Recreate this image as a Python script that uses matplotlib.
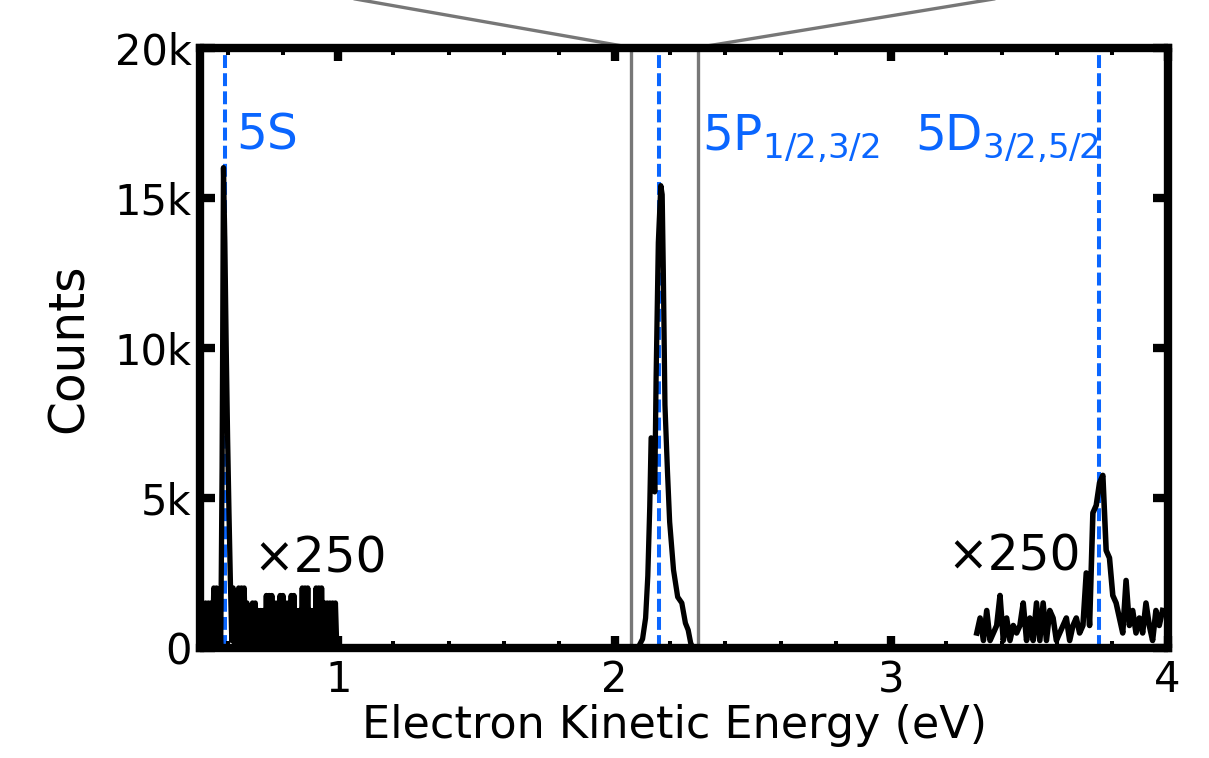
import numpy as np
import matplotlib
matplotlib.use("Agg")
import matplotlib.pyplot as plt
from matplotlib.ticker import MultipleLocator

# low-energy window (5S), counts before the x250 scaling, 0.005 eV bins from 0.5 eV
low_counts = [5, 0, 5, 0, 6, 0, 6, 1, 6, 0,
              8, 0, 8, 0, 5, 0, 24, 64, 54, 40,
              28, 18, 9, 1, 8, 0, 7, 0, 8, 0,
              8, 0, 8, 0, 6, 0, 5, 0, 6, 0,
              6, 0, 5, 1, 5, 0, 5, 0, 7, 0,
              7, 1, 7, 0, 6, 0, 6, 0, 7, 0,
              7, 0, 6, 1, 6, 0, 7, 0, 7, 0,
              5, 0, 5, 0, 8, 0, 8, 1, 8, 0,
              5, 0, 5, 0, 8, 0, 8, 0, 8, 1,
              6, 0, 6, 0, 6, 0, 6, 0, 6, 0,
              0]
low_start, low_step = 0.5, 0.005

# 5P peak (unscaled)
mid_energy = [2.058, 2.087, 2.101, 2.112, 2.120, 2.127, 2.132, 2.140, 2.145, 2.150,
              2.158, 2.167, 2.172, 2.176, 2.182, 2.191, 2.199, 2.213, 2.228, 2.243,
              2.256, 2.266, 2.275, 2.283]
mid_counts = [0, 50, 300, 1000, 2400, 4700, 7000, 6900, 5200, 9000,
              13500, 15400, 15100, 12600, 8100, 5900, 4200, 2600, 1700, 1500,
              830, 600, 170, 0]

# high-energy window (5D), counts before the x250 scaling, 0.012 eV bins from 3.31 eV
high_counts = [2, 4, 1, 5, 1, 2, 3, 7, 1, 4,
               1, 3, 2, 3, 6, 1, 4, 1, 6, 1,
               6, 1, 5, 4, 1, 2, 3, 4, 1, 3,
               4, 2, 3, 10, 3, 18, 19, 22, 23, 13,
               12, 7, 6, 4, 2, 9, 3, 5, 2, 4,
               2, 6, 3, 1, 5, 3, 5]
high_start, high_step = 3.31, 0.012

scale = 250

# state energies and labels
state_energy = [0.590, 2.162, 3.751]
state_labels = ['5S', r'5P$_{1/2{,}3/2}$', r'5D$_{3/2{,}5/2}$']
state_label_x = [0.630, 2.316, 3.088]

inset_range = [2.06, 2.30]

blue = '#0a66ff'
fs_tick = 30
fs_text = 35

fig = plt.figure(figsize=(12.09, 7.58), dpi=100)
ax = fig.add_axes([0.1654, 0.1451, 0.8003, 0.7922])

low_x = low_start + low_step * np.arange(len(low_counts))
high_x = high_start + high_step * np.arange(len(high_counts))

for e in state_energy:
    ax.axvline(e, color=blue, lw=2.9, dashes=(3.2, 1.3), zorder=1)

ax.plot(low_x, np.array(low_counts) * scale, color='black', lw=3.8, zorder=3)
ax.plot(mid_energy, mid_counts, color='black', lw=3.8, zorder=3)
ax.plot(high_x, np.array(high_counts) * scale, color='black', lw=4.0, zorder=3)

# inset boundaries and connector lines running off the top
for xe in inset_range:
    ax.plot([xe, xe], [0, 20000], color='#777777', lw=2.4, zorder=2)
ax.plot([inset_range[0], 0.862], [20000, 21940], color='#777777', lw=2.4,
        clip_on=False, zorder=2)
ax.plot([inset_range[1], 3.612], [20000, 21980], color='#777777', lw=2.4,
        clip_on=False, zorder=2)

for lx, lab in zip(state_label_x, state_labels):
    ax.text(lx, 16600, lab, color=blue, fontsize=fs_text, ha='left', va='baseline')

ax.text(0.692, 2530, '×250', color='black', fontsize=fs_text, ha='left', va='baseline')
ax.text(3.202, 2590, '×250', color='black', fontsize=fs_text, ha='left', va='baseline')

ax.set_xlim(0.5, 4)
ax.set_ylim(0, 20000)
ax.xaxis.set_major_locator(MultipleLocator(1))
ax.xaxis.set_minor_locator(MultipleLocator(0.2))
ax.set_yticks([0, 5000, 10000, 15000, 20000])
ax.set_yticklabels(['0', '5k', '10k', '15k', '20k'])

for s in ax.spines.values():
    s.set_linewidth(6)

ax.tick_params(axis='both', which='both', direction='in', top=True, right=True,
               labelsize=fs_tick)
ax.tick_params(axis='x', which='major', length=9, width=6, pad=8)
ax.tick_params(axis='x', which='minor', length=5, width=2.9)
ax.tick_params(axis='y', which='major', length=11, width=6, pad=6)

ax.set_xlabel('Electron Kinetic Energy (eV)', fontsize=32)
ax.xaxis.set_label_coords(0.49, -0.093)
ax.set_ylabel('Counts', fontsize=35, labelpad=16)

fig.savefig('out.png', dpi=100)
